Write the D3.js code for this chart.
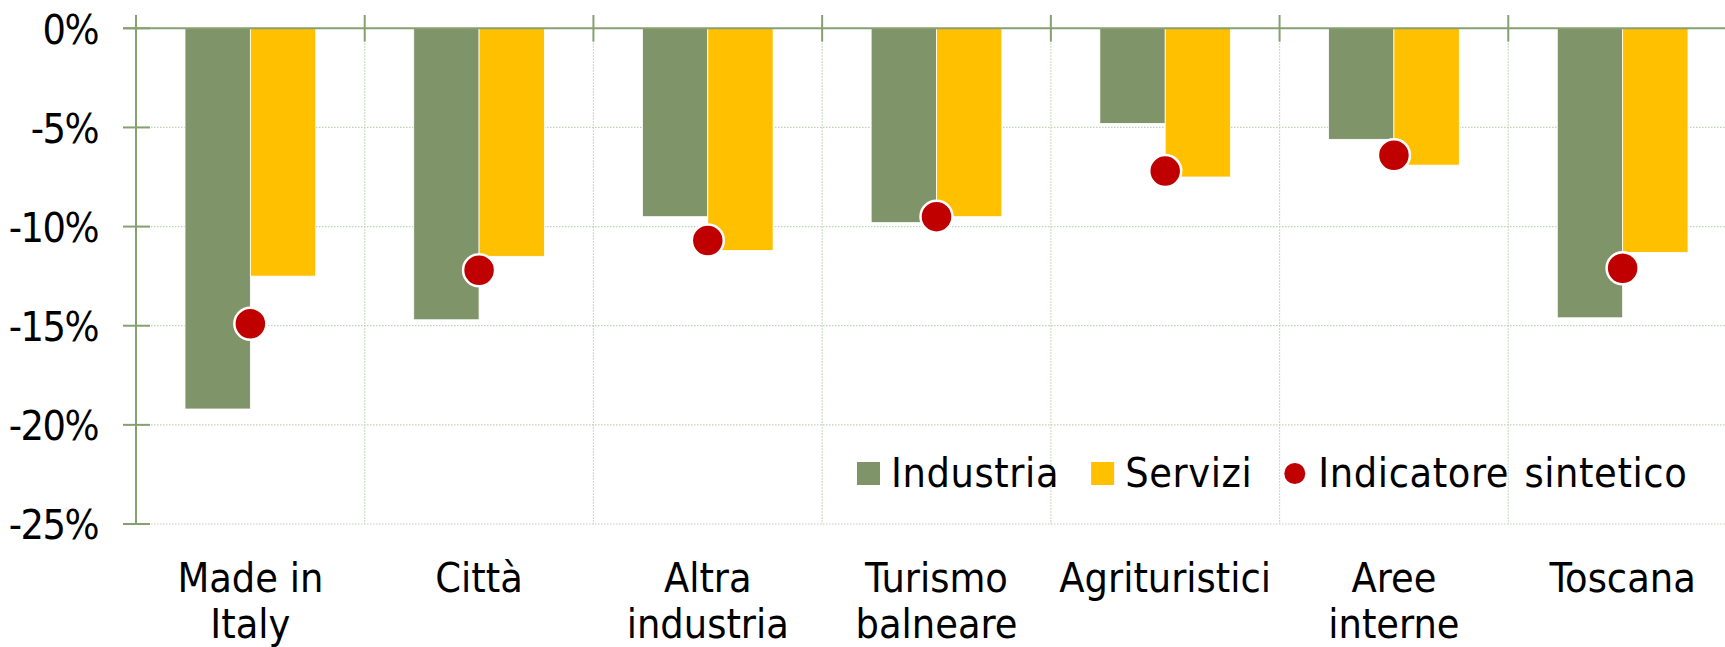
<!DOCTYPE html>
<html>
<head>
<meta charset="utf-8">
<script src="https://cdn.jsdelivr.net/npm/d3@7"></script>
<style>
  html, body { margin: 0; padding: 0; background: #ffffff; overflow: hidden; }
  svg { display: block; }
  text { font-family: "DejaVu Sans Condensed", "DejaVu Sans", sans-serif; fill: #000; }
</style>
</head>
<body>
<svg id="chart" width="1725" height="647"></svg>
<script>
// ---- data ----
const categories = ["Made in Italy", "Città", "Altra industria", "Turismo balneare", "Agrituristici", "Aree interne", "Toscana"];
const categoryLabels = [["Made in", "Italy"], ["Città"], ["Altra", "industria"], ["Turismo", "balneare"], ["Agrituristici"], ["Aree", "interne"], ["Toscana"]];
const industria = [-19.2, -14.7, -9.5, -9.8, -4.8, -5.6, -14.6];
const servizi = [-12.5, -11.5, -11.2, -9.5, -7.5, -6.9, -11.3];
const indicatore = [-14.9, -12.2, -10.7, -9.5, -7.2, -6.4, -12.1];
const yTicks = [0, -5, -10, -15, -20, -25];
const seriesNames = ["Industria", "Servizi", "Indicatore sintetico"];

// ---- layout ----
const plotLeft = 136, plotRight = 1737, plotTop = 28.3, plotBottom = 524;
const fontSize = 41;
const cGreen = "#80946a", cYellow = "#ffc000", cRed = "#c00000";
const cAxis = "#87a072", cGrid = "#bfd3b6";

const svg = d3.select("#chart");

const x = d3.scaleBand().domain(categories).range([plotLeft, plotRight]).paddingInner(0).paddingOuter(0);
const x1 = d3.scaleBand().domain(["Industria", "Servizi"]).range([0, x.bandwidth()]).paddingInner(0).paddingOuter(0.75);
const y = d3.scaleLinear().domain([-25, 0]).range([plotBottom, plotTop]);

// gridlines horizontal
const gGrid = svg.append("g");
gGrid.selectAll("line.h").data(yTicks.filter(d => d !== 0)).join("line")
  .attr("x1", plotLeft).attr("x2", plotRight)
  .attr("y1", d => y(d)).attr("y2", d => y(d))
  .attr("stroke", cGrid).attr("stroke-width", 1.2).attr("stroke-dasharray", "1.5,1.5");
// gridlines vertical
const boundaries = categories.map(c => x(c)).slice(1).concat([x(categories[categories.length - 1]) + x.bandwidth()]);
gGrid.selectAll("line.v").data(boundaries).join("line")
  .attr("x1", d => d).attr("x2", d => d)
  .attr("y1", plotTop).attr("y2", plotBottom)
  .attr("stroke", cGrid).attr("stroke-width", 1.2).attr("stroke-dasharray", "1.5,1.5");

// bars
const gBars = svg.append("g");
const groups = gBars.selectAll("g").data(categories).join("g")
  .attr("transform", c => `translate(${x(c)},0)`);
groups.append("rect")
  .attr("x", x1("Industria")).attr("width", x1.bandwidth())
  .attr("y", y(0)).attr("height", (c, i) => y(industria[i]) - y(0))
  .attr("fill", cGreen).attr("stroke", "#ffffff").attr("stroke-width", 0.8);
groups.append("rect")
  .attr("x", x1("Servizi")).attr("width", x1.bandwidth())
  .attr("y", y(0)).attr("height", (c, i) => y(servizi[i]) - y(0))
  .attr("fill", cYellow).attr("stroke", "#ffffff").attr("stroke-width", 0.8);

// y axis
const yAxis = d3.axisLeft(y).tickValues(yTicks).tickFormat(d => d + "%").tickSize(0).tickPadding(38);
const gY = svg.append("g").attr("transform", `translate(${plotLeft},0)`).call(yAxis);
gY.select(".domain").remove();
gY.selectAll("text").attr("font-size", fontSize).attr("font-family", "DejaVu Sans Condensed, DejaVu Sans, sans-serif")
  .attr("fill", "#000").attr("dy", "0.36em").attr("letter-spacing", "-1.5px");
gY.append("line").attr("x1", 0).attr("x2", 0).attr("y1", plotTop - 13.3).attr("y2", plotBottom)
  .attr("stroke", cAxis).attr("stroke-width", 2);
gY.selectAll("line.tk").data(yTicks).join("line").attr("class", "tk")
  .attr("x1", -13).attr("x2", 14).attr("y1", d => y(d)).attr("y2", d => y(d))
  .attr("stroke", cAxis).attr("stroke-width", 2);

// x axis (at zero, top)
const gX = svg.append("g");
gX.append("line").attr("x1", plotLeft - 13).attr("x2", plotRight).attr("y1", y(0)).attr("y2", y(0))
  .attr("stroke", cAxis).attr("stroke-width", 2);
gX.selectAll("line.tk").data(boundaries).join("line").attr("class", "tk")
  .attr("x1", d => d).attr("x2", d => d).attr("y1", y(0) - 13.3).attr("y2", y(0) + 13.3)
  .attr("stroke", cAxis).attr("stroke-width", 2);

// category labels
const gLab = svg.append("g");
categories.forEach((c, i) => {
  const t = gLab.append("text")
    .attr("x", x(c) + x.bandwidth() / 2).attr("y", 591.5)
    .attr("text-anchor", "middle").attr("font-size", fontSize);
  categoryLabels[i].forEach((line, j) => {
    t.append("tspan").attr("x", x(c) + x.bandwidth() / 2).attr("dy", j === 0 ? 0 : 46).text(line);
  });
});

// dots
svg.append("g").selectAll("circle").data(categories).join("circle")
  .attr("cx", c => x(c) + x.bandwidth() / 2)
  .attr("cy", (c, i) => y(indicatore[i]))
  .attr("r", 16).attr("fill", cRed).attr("stroke", "#ffffff").attr("stroke-width", 2.5);

// legend
const gLeg = svg.append("g");
let lx = 857;
const legY = 473.5;
const legColors = [cGreen, cYellow, cRed];
seriesNames.forEach((name, i) => {
  if (i < 2) {
    gLeg.append("rect").attr("x", lx).attr("y", legY - 11.5).attr("width", 23).attr("height", 23).attr("fill", legColors[i]);
  } else {
    gLeg.append("circle").attr("cx", lx + 10.5).attr("cy", legY).attr("r", 10.5).attr("fill", legColors[i]);
  }
  lx += 34;
  const t = gLeg.append("text").attr("x", lx).attr("y", 486.7).attr("font-size", fontSize)
    .attr("letter-spacing", "0.6px").attr("word-spacing", "3px").text(name);
  lx += t.node().getComputedTextLength() + 32;
});
</script>
</body>
</html>
